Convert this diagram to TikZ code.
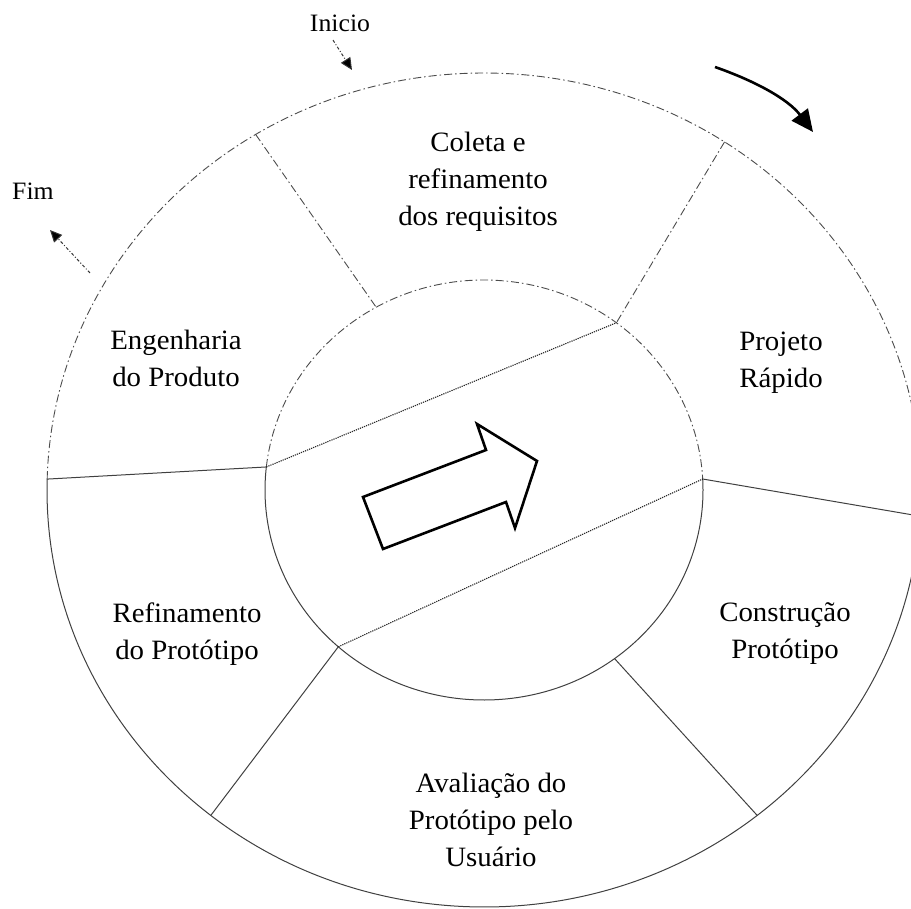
\documentclass[tikz,border=0pt]{standalone}
\usepackage{fontspec}
\setmainfont{Liberation Serif}[FakeStretch=1.03]
\usetikzlibrary{arrows.meta}

\begin{document}
\begin{tikzpicture}[x=1pt,y=-1pt,
  ring/.style={line width=1pt, draw=black!75},
  dashring/.style={line width=0.9pt, draw=black!70, dash pattern=on 8pt off 3pt on 1.5pt off 3pt},
  chord/.style={line width=1.1pt, draw=black!85, dash pattern=on 1.2pt off 1pt},
  phase/.style={align=center, font=\fontsize{28}{37}\selectfont, inner sep=0pt},
  note/.style={font=\fontsize{25}{30}\selectfont, inner sep=0pt},
  pointer/.style={line width=1pt, draw=black!80, dash pattern=on 3pt off 2pt on 1pt off 2pt,
    -{Triangle[length=12pt,width=11pt,fill=black]}},
  blockarrow/.style={line width=2.6pt, draw=black, line join=miter},
]
\useasboundingbox (0,0) rectangle (911,909);
\clip (0,0) rectangle (911,909);

% junctions on the outer ring (centre 484,490; radii 437 x 417)
\coordinate (o1) at ({484+437*cos(178.5)},{490-417*sin(178.5)});
\coordinate (o2) at ({484+437*cos(121.5)},{490-417*sin(121.5)});
\coordinate (o3) at ({484+437*cos(56.6)},{490-417*sin(56.6)});
\coordinate (o4) at ({484+437*cos(-3.6)},{490-417*sin(-3.6)});
\coordinate (o5) at ({484+437*cos(-51.3)},{490-417*sin(-51.3)});
\coordinate (o6) at ({484+437*cos(-128.7)},{490-417*sin(-128.7)});

% junctions on the inner ring (radii 219 x 210)
\coordinate (i1) at ({484+219*cos(173.7)},{490-210*sin(173.7)});
\coordinate (i2) at ({484+219*cos(119.5)},{490-210*sin(119.5)});
\coordinate (i3) at ({484+219*cos(52.8)},{490-210*sin(52.8)});
\coordinate (i4) at ({484+219*cos(3)},{490-210*sin(3)});
\coordinate (i5) at ({484+219*cos(-53.4)},{490-210*sin(-53.4)});
\coordinate (i6) at ({484+219*cos(-131.7)},{490-210*sin(-131.7)});

% outer ring: dashed over the top, solid underneath
\draw[dashring] (o1) arc[start angle=178.5, end angle=-3.6, x radius=437pt, y radius=417pt];
\draw[ring] (o4) arc[start angle=-3.6, end angle=-181.5, x radius=437pt, y radius=417pt];

% inner ring
\draw[dashring] (i1) arc[start angle=173.7, end angle=3, x radius=219pt, y radius=210pt];
\draw[ring] (i4) arc[start angle=3, end angle=-186.3, x radius=219pt, y radius=210pt];

% spokes between the rings
\draw[ring] (o1) -- (i1);
\draw[dashring] (o2) -- (i2);
\draw[dashring] (o3) -- (i3);
\draw[ring] (i4) -- (o4);
\draw[ring] (i5) -- (o5);
\draw[ring] (i6) -- (o6);

% dotted chords across the centre
\draw[chord] (i1) -- (i3);
\draw[chord] (i6) -- (i4);

% block arrow in the centre
\draw[blockarrow] (363,497) -- (486,450) -- (477,424) -- (537,461)
  -- (515,528) -- (506,502) -- (383,549) -- cycle;

% phase labels
\node[phase] (coleta) at (478,182) {Coleta e\\refinamento\\dos requisitos};
\node[phase] (engenharia) at (176,358) {Engenharia\\do Produto};
\node[phase] (projeto) at (781,363) {Projeto\\Rápido};
\node[phase] (refinamento) at (187,634) {Refinamento\\do Protótipo};
\node[phase] (construcao) at (785,634) {Construção\\Protótipo};
\node[phase] (avaliacao) at (491,820) {Avaliação do\\Protótipo pelo\\Usuário};

% start and end markers
\node[note] (inicio) at (340,23.5) {Inicio};
\node[note] (fim) at (33,191.5) {Fim};
\coordinate (inicioTip) at (352,70);
\coordinate (fimTail) at (90,273);
\coordinate (fimTip) at (50,230);
\draw[pointer] (inicio.south) ++(-7,8) -- (inicioTip);
\draw[pointer] (fimTail) -- (fimTip);

% direction of travel
\coordinate (cwStart) at (715,67);
\coordinate (cwEnd) at (813,132);
\draw[line width=2.6pt, -{Triangle[length=22pt,width=20pt]}]
  (cwStart) .. controls (755,81) and (788,99) .. (cwEnd);
\end{tikzpicture}
\end{document}
